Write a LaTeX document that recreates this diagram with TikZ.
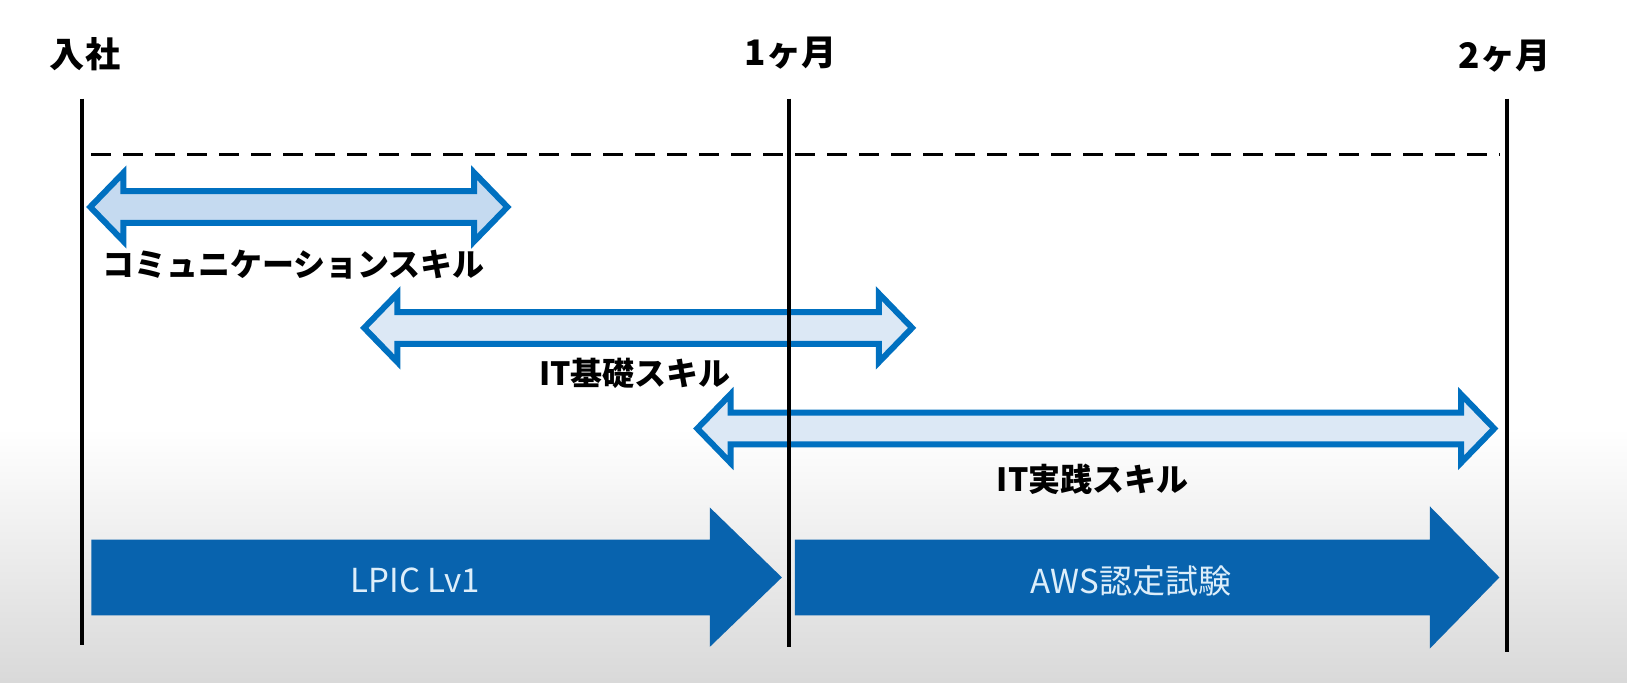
\documentclass[tikz,border=0pt]{standalone}
\usepackage{fontspec}
\setmainfont{Noto Sans CJK JP}
\usepackage{tikz}

\definecolor{lineblue}{HTML}{0070C0}
\definecolor{planblue}{HTML}{0863AE}
\definecolor{paleblue}{HTML}{C5DAF0}
\definecolor{paleblue2}{HTML}{DCE8F5}
\definecolor{plantext}{HTML}{DDEEFA}

\begin{document}
\begin{tikzpicture}[thick,x=1.0376cm,y=1.0376cm,
  milestone/.style={font=\bfseries\fontsize{10}{12}\selectfont},
  skilltext/.style={font=\bfseries\fontsize{9.1}{11}\selectfont},
  plantext/.style={text=plantext,font=\fontsize{9.4}{11}\selectfont},
  skill/.style={draw=lineblue,line width=0.06cm,line join=miter},
  phase/.style={fill=planblue},
  timeline/.style={line width=0.04cm,black}]

\useasboundingbox (0,0.25) rectangle (15.68,6.83);
\fill[white] (0,0.25) rectangle (15.68,6.83);
\shade[top color=white,bottom color=black!15] (0,0.25) rectangle (15.68,2.7);

% milestones
\node (Join) at (0.82,6.31) [milestone] {入社};
\node (Month1) at (7.62,6.32) [milestone] {1ヶ月};
\node (Month2) at (14.50,6.29) [milestone] {2ヶ月};

\coordinate (JoinTop) at (0.79,5.88);
\coordinate (JoinBot) at (0.79,0.61);
\coordinate (Month1Top) at (7.60,5.88);
\coordinate (Month1Bot) at (7.60,0.595);
\coordinate (Month2Top) at (14.52,5.88);
\coordinate (Month2Bot) at (14.52,0.55);

\coordinate (GuideStart) at (0.88,5.34);
\coordinate (GuideEnd) at (14.45,5.34);
\draw[timeline,line width=0.035cm,dash pattern=on 0.2cm off 0.12cm] (GuideStart) -- (GuideEnd);

% skills
\draw[skill,fill=paleblue] (0.87,4.835) -- ++(0.32,0.33) -- ++(0,-0.177) -- (4.57,4.988) -- ++(0,0.177)
  -- (4.89,4.835) -- ++(-0.32,-0.33) -- ++(0,0.177) -- (1.19,4.682) -- ++(0,-0.177) -- cycle;
\node (Comm) at (2.83,4.28) [skilltext] {コミュニケーションスキル};

\draw[skill,fill=paleblue2] (3.51,3.67) -- ++(0.32,0.33) -- ++(0,-0.177) -- (8.47,3.823) -- ++(0,0.177)
  -- (8.79,3.67) -- ++(-0.32,-0.33) -- ++(0,0.177) -- (3.83,3.517) -- ++(0,-0.177) -- cycle;
\node (Basic) at (6.12,3.23) [skilltext] {IT基礎スキル};

\draw[skill,fill=paleblue2] (6.72,2.70) -- ++(0.32,0.33) -- ++(0,-0.177) -- (14.08,2.853) -- ++(0,0.177)
  -- (14.40,2.70) -- ++(-0.32,-0.33) -- ++(0,0.177) -- (7.04,2.547) -- ++(0,-0.177) -- cycle;
\node (Practice) at (10.53,2.21) [skilltext] {IT実践スキル};

% plans
\fill[phase] (0.88,0.90) -- (6.84,0.90) -- (6.84,0.595) -- (7.535,1.265) -- (6.84,1.94) -- (6.84,1.63) -- (0.88,1.63) -- cycle;
\node (LPIC) at (4.00,1.24) [plantext] {LPIC Lv1};

\fill[phase] (7.66,0.90) -- (13.78,0.90) -- (13.78,0.58) -- (14.45,1.265) -- (13.78,1.95) -- (13.78,1.63) -- (7.66,1.63) -- cycle;
\node (AWS) at (10.90,1.23) [plantext] {AWS認定試験};

\draw[timeline] (JoinTop) -- (JoinBot);
\draw[timeline] (Month1Top) -- (Month1Bot);
\draw[timeline] (Month2Top) -- (Month2Bot);

\end{tikzpicture}
\end{document}
